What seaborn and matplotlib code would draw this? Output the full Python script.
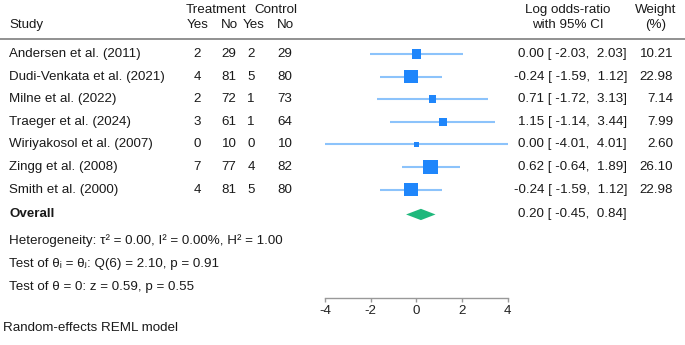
import matplotlib.pyplot as plt
import numpy as np
import pandas as pd
import seaborn as sns
from matplotlib.lines import Line2D
from matplotlib.transforms import blended_transform_factory

# study level data
studies = ["Andersen et al. (2011)", "Dudi-Venkata et al. (2021)", "Milne et al. (2022)",
           "Traeger et al. (2024)", "Wiriyakosol et al. (2007)", "Zingg et al. (2008)",
           "Smith et al. (2000)"]
treat_yes = [2, 4, 2, 3, 0, 7, 4]
treat_no = [29, 81, 72, 61, 10, 77, 81]
ctrl_yes = [2, 5, 1, 1, 0, 4, 5]
ctrl_no = [29, 80, 73, 64, 10, 82, 80]
log_or = [0.00, -0.24, 0.71, 1.15, 0.00, 0.62, -0.24]
ci_low = [-2.03, -1.59, -1.72, -1.14, -4.01, -0.64, -1.59]
ci_high = [2.03, 1.12, 3.13, 3.44, 4.01, 1.89, 1.12]
weight = [10.21, 22.98, 7.14, 7.99, 2.60, 26.10, 22.98]

overall = [0.20, -0.45, 0.84]  # estimate, low, high
stats_lines = ["Heterogeneity: \u03c4\u00b2 = 0.00, I\u00b2 = 0.00%, H\u00b2 = 1.00",
               "Test of \u03b8\u1d62 = \u03b8\u2c7c: Q(6) = 2.10, p = 0.91",
               "Test of \u03b8 = 0: z = 0.59, p = 0.55"]
xticks = [-4, -2, 0, 2, 4]

df = pd.DataFrame({"study": studies, "est": log_or, "lo": ci_low, "hi": ci_high,
                   "weight": weight, "row": np.arange(len(studies))})

sns.set_theme(style="white")
plt.rcParams['font.family'] = ['Liberation Sans', 'DejaVu Sans']
plt.rcParams['font.size'] = 9.6

W, H = 685, 345
fig = plt.figure(figsize=(W / 100, H / 100), dpi=100)


def fx(px):
    return px / W


def fy(py):
    return 1 - py / H


row0, step = 54, 22.6
axis_px = 298
ax = fig.add_axes([fx(325), fy(axis_px), fx(507.7) - fx(325), axis_px / H])
ax.set_xlim(-4, 4)
ax.set_ylim((axis_px - row0) / step, -row0 / step)
ax.patch.set_alpha(0)
for s in ["top", "left", "right"]:
    ax.spines[s].set_visible(False)
ax.spines["bottom"].set_color("#999999")
ax.spines["bottom"].set_linewidth(1.0)
ax.set_yticks([])
ax.set_xticks(xticks)
ax.set_xticklabels([str(t) for t in xticks])
ax.tick_params(axis="x", direction="out", length=3, width=1, color="#999999",
               pad=2, labelsize=9.6, labelcolor="#222222", bottom=True)

# confidence intervals and study squares
ax.hlines(df["row"], df["lo"], df["hi"], color="#8cc3fb", linewidth=1.5, zorder=1)
sns.scatterplot(data=df, x="est", y="row", size="weight", sizes=(0, 110),
                size_norm=(0, 26.1), marker="s", color="#1f86fb", linewidth=0,
                legend=False, ax=ax, zorder=2, clip_on=False)
ax.set_xlabel("")
ax.set_ylabel("")

# overall diamond
orow = 7.1
est, lo, hi = overall
hh = 0.25
ax.fill([lo, est, hi, est], [orow, orow - hh, orow, orow + hh], color="#1fb87c",
        linewidth=0, zorder=2)

# text columns
tr = blended_transform_factory(fig.transFigure, ax.transData)
txt = dict(color="#1a1a1a", fontsize=9.6, va="center")
for i in range(len(studies)):
    ax.text(fx(9), i, studies[i], ha="left", transform=tr, **txt)
    ax.text(fx(197), i, str(treat_yes[i]), ha="center", transform=tr, **txt)
    ax.text(fx(229), i, str(treat_no[i]), ha="center", transform=tr, **txt)
    ax.text(fx(251), i, str(ctrl_yes[i]), ha="center", transform=tr, **txt)
    ax.text(fx(285), i, str(ctrl_no[i]), ha="center", transform=tr, **txt)
    ax.text(fx(627), i, f"{log_or[i]:.2f} [{ci_low[i]:6.2f}, {ci_high[i]:5.2f}]",
            ha="right", transform=tr, **txt)
    ax.text(fx(673), i, f"{weight[i]:.2f}", ha="right", transform=tr, **txt)

ax.text(fx(9), orow, "Overall", ha="left", fontweight="bold", transform=tr, **txt)
ax.text(fx(627), orow, f"{est:.2f} [{lo:6.2f}, {hi:5.2f}]", ha="right", transform=tr, **txt)

# headers
fig.text(fx(216), fy(10), "Treatment", ha="center", **txt)
fig.text(fx(276), fy(10), "Control", ha="center", **txt)
fig.text(fx(9), fy(25), "Study", ha="left", **txt)
for x, lab in zip([198, 229, 254, 285], ["Yes", "No", "Yes", "No"]):
    fig.text(fx(x), fy(25), lab, ha="center", **txt)
fig.text(fx(568), fy(10), "Log odds-ratio", ha="center", **txt)
fig.text(fx(568), fy(25), "with 95% CI", ha="center", **txt)
fig.text(fx(656), fy(10), "Weight", ha="center", **txt)
fig.text(fx(656), fy(25), "(%)", ha="center", **txt)
fig.add_artist(Line2D([0, 1], [fy(39), fy(39)], color="#888888", linewidth=1.3,
                      transform=fig.transFigure))

# statistics footer
for py, line in zip([241, 264, 287], stats_lines):
    fig.text(fx(9), fy(py), line, ha="left", **txt)
fig.text(fx(3), fy(328), "Random-effects REML model", ha="left", **txt)

fig.savefig("out.png", dpi=100)
